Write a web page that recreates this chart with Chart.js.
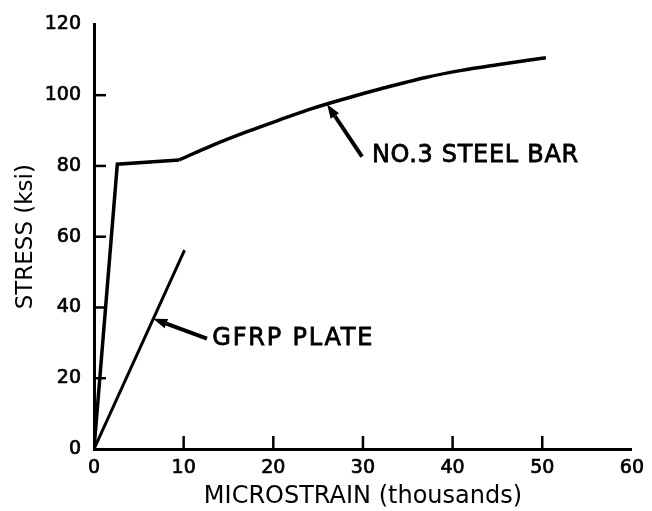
<!DOCTYPE html>
<html>
<head>
<meta charset="utf-8">
<script src="https://cdn.jsdelivr.net/npm/chart.js@4"></script>
<style>
  html, body { margin: 0; padding: 0; background: #fff; }
  #wrap { width: 652px; height: 511px; }
</style>
</head>
<body>
<div id="wrap"><canvas id="stressChart"></canvas></div>
<script>
// Values
let steelStrain = [0, 2.6, 9.5];
let steelStress = [0, 80.5, 81.7];
let hardStrain = [9.5, 13, 17, 20.7, 24.3, 28, 32, 37, 41, 45, 50.4];
let hardStress = [81.7, 85.6, 89.6, 93, 96.2, 99, 101.8, 105, 107, 108.6, 110.6];
let gfrpStrain = [0, 10.1];
let gfrpStress = [0, 56.2];
let xTicks = [0, 10, 20, 30, 40, 50, 60];
let yTicks = [0, 20, 40, 60, 80, 100, 120];

let toPoints = (xs, ys) => xs.map((x, i) => ({ x: x, y: ys[i] }));

// labels with arrows, anchored in data units
let notes = [
  { text: "NO.3 STEEL BAR", tip: [26, 97.4], tail: [29.9, 82.6], at: [31, 83], spacing: 0.7 },
  { text: "GFRP PLATE", tip: [6.6, 36.8], tail: [12.6, 31.2], at: [13.2, 31.2], spacing: 1.8 },
];

const FONT = "'DejaVu Sans', sans-serif";

// inward tick marks + callouts
let figurePlugin = {
  id: "figure",
  afterDatasetsDraw(chart) {
    let ctx = chart.ctx;
    let xs = chart.scales.x;
    let ys = chart.scales.y;
    ctx.save();
    ctx.strokeStyle = "#000";
    ctx.fillStyle = "#000";
    ctx.lineWidth = 2.5;
    ctx.lineCap = "butt";
    xTicks.slice(1, -1).forEach((v) => {
      let px = xs.getPixelForValue(v);
      ctx.beginPath();
      ctx.moveTo(px, ys.bottom);
      ctx.lineTo(px, ys.bottom - 13);
      ctx.stroke();
    });
    yTicks.slice(1, -1).forEach((v) => {
      let py = ys.getPixelForValue(v);
      ctx.beginPath();
      ctx.moveTo(xs.left, py);
      ctx.lineTo(xs.left + 12, py);
      ctx.stroke();
    });

    notes.forEach((n) => {
      let tx = xs.getPixelForValue(n.tip[0]);
      let ty = ys.getPixelForValue(n.tip[1]);
      let sx = xs.getPixelForValue(n.tail[0]);
      let sy = ys.getPixelForValue(n.tail[1]);
      let ang = Math.atan2(ty - sy, tx - sx);
      let head = 14;
      let bx = tx - head * Math.cos(ang);
      let by = ty - head * Math.sin(ang);
      ctx.lineWidth = 4;
      ctx.beginPath();
      ctx.moveTo(sx, sy);
      ctx.lineTo(bx, by);
      ctx.stroke();
      ctx.beginPath();
      ctx.moveTo(tx, ty);
      ctx.lineTo(bx + 5 * Math.sin(ang), by - 5 * Math.cos(ang));
      ctx.lineTo(bx - 5 * Math.sin(ang), by + 5 * Math.cos(ang));
      ctx.closePath();
      ctx.fill();

      ctx.font = "24px " + FONT;
      ctx.letterSpacing = n.spacing + "px";
      ctx.textAlign = "left";
      ctx.textBaseline = "middle";
      ctx.lineWidth = 0.8;
      let lx = xs.getPixelForValue(n.at[0]);
      let ly = ys.getPixelForValue(n.at[1]);
      ctx.fillText(n.text, lx, ly);
      ctx.strokeText(n.text, lx, ly);
    });
    ctx.restore();
  },
};

let tickStyle = {
  color: "#000",
  textStrokeColor: "#000",
  textStrokeWidth: 0.7,
  font: { family: FONT, size: 19 },
};

let chartCtx = document.getElementById("stressChart").getContext("2d");
let stressChart = new Chart(chartCtx, {
  type: "scatter",
  data: {
    datasets: [
      {
        label: "No. 3 steel bar",
        data: toPoints(steelStrain, steelStress),
        showLine: true,
        borderColor: "#000",
        borderWidth: 3.5,
        pointRadius: 0,
        tension: 0,
      },
      {
        label: "No. 3 steel bar (hardening)",
        data: toPoints(hardStrain, hardStress),
        showLine: true,
        borderColor: "#000",
        borderWidth: 3.5,
        pointRadius: 0,
        cubicInterpolationMode: "monotone",
      },
      {
        label: "GFRP plate",
        data: toPoints(gfrpStrain, gfrpStress),
        showLine: true,
        borderColor: "#000",
        borderWidth: 3,
        pointRadius: 0,
        tension: 0,
      },
    ],
  },
  options: {
    responsive: true,
    maintainAspectRatio: false,
    animation: false,
    layout: { padding: { top: 22, right: 18, left: 0, bottom: 0 } },
    plugins: {
      legend: { display: false },
      tooltip: { enabled: false },
    },
    scales: {
      x: {
        type: "linear",
        min: 0,
        max: 60,
        afterFit: (scale) => { scale.height = 62; },
        afterBuildTicks: (scale) => { scale.ticks = xTicks.map((v) => ({ value: v })); },
        grid: { display: false, drawTicks: false },
        border: { display: true, color: "#000", width: 3 },
        ticks: Object.assign({ padding: 8, maxRotation: 0 }, tickStyle),
        title: {
          display: true,
          text: "MICROSTRAIN (thousands)",
          color: "#000",
          padding: { top: 0, bottom: 0 },
          font: { family: FONT, size: 24 },
        },
      },
      y: {
        type: "linear",
        min: 0,
        max: 120,
        afterFit: (scale) => { scale.width = 94; },
        afterBuildTicks: (scale) => { scale.ticks = yTicks.map((v) => ({ value: v })); },
        grid: { display: false, drawTicks: false },
        border: { display: true, color: "#000", width: 3 },
        ticks: Object.assign({ padding: 13 }, tickStyle),
        title: {
          display: true,
          text: "STRESS (ksi)",
          color: "#000",
          padding: { top: 12, bottom: 0 },
          font: { family: FONT, size: 23 },
        },
      },
    },
  },
  plugins: [figurePlugin],
});
</script>
</body>
</html>
